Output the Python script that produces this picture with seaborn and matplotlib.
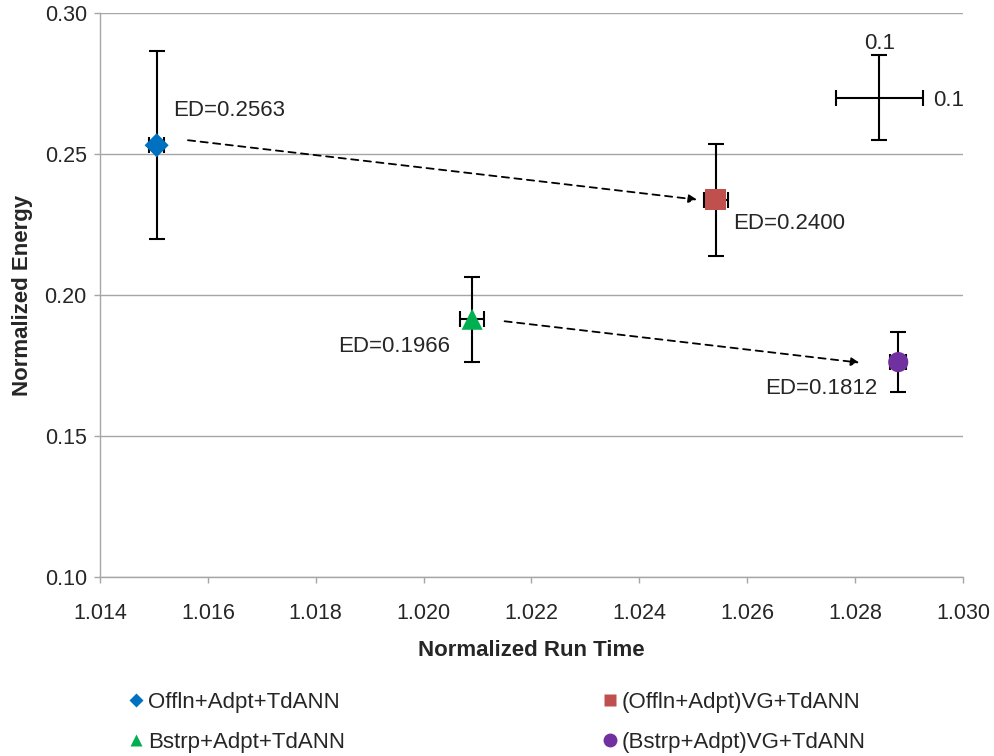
import matplotlib
matplotlib.use("Agg")
import matplotlib.pyplot as plt
import seaborn as sns
import pandas as pd
from matplotlib.lines import Line2D

# Data
methods = ["Offln+Adpt+TdANN", "(Offln+Adpt)VG+TdANN",
           "Bstrp+Adpt+TdANN", "(Bstrp+Adpt)VG+TdANN"]
run_time = [1.01505, 1.02542, 1.02090, 1.02880]
energy = [0.2531, 0.2337, 0.1914, 0.1762]
run_time_err = [0.00014, 0.00023, 0.00022, 0.00015]
energy_err = [0.0334, 0.0197, 0.0150, 0.0107]
ed_labels = ["ED=0.2563", "ED=0.2400", "ED=0.1966", "ED=0.1812"]

# Scale reference cross
scale_center = (1.02845, 0.2699)
scale_xerr = 0.0008
scale_yerr = 0.0151
scale_labels = ["0.1", "0.1"]

colors = {"Offln+Adpt+TdANN": "#0070C0",
          "(Offln+Adpt)VG+TdANN": "#C0504D",
          "Bstrp+Adpt+TdANN": "#00B050",
          "(Bstrp+Adpt)VG+TdANN": "#7030A0"}
markers = {"Offln+Adpt+TdANN": "D",
           "(Offln+Adpt)VG+TdANN": "s",
           "Bstrp+Adpt+TdANN": "^",
           "(Bstrp+Adpt)VG+TdANN": "o"}
sizes = {"Offln+Adpt+TdANN": 150,
         "(Offln+Adpt)VG+TdANN": 230,
         "Bstrp+Adpt+TdANN": 230,
         "(Bstrp+Adpt)VG+TdANN": 210}

df = pd.DataFrame({"method": methods, "run_time": run_time, "energy": energy,
                   "xerr": run_time_err, "yerr": energy_err})

sns.set_style("white")
plt.rcParams["font.family"] = ["Liberation Sans", "DejaVu Sans"]

fig = plt.figure(figsize=(9.95, 7.56), dpi=100)
ax = fig.add_axes([0.1005, 0.2368, 0.8673, 0.7460])

# error bars
ax.errorbar(df["run_time"], df["energy"], xerr=df["xerr"], yerr=df["yerr"],
            fmt="none", ecolor="black", elinewidth=1.5, capsize=5.5,
            capthick=1.5, zorder=2)

for _, r in df.iterrows():
    sns.scatterplot(x=[r["run_time"]], y=[r["energy"]], ax=ax,
                    marker=markers[r["method"]], s=sizes[r["method"]],
                    color=colors[r["method"]], edgecolor="none",
                    zorder=3, legend=False)

# dashed arrows between related methods
arrow_kw = dict(arrowstyle="-|>", linestyle=(0, (4, 3)), color="black",
                lw=1.3, mutation_scale=12)
ax.annotate("", xy=(1.02512, 0.2337), xytext=(1.01558, 0.2550),
            arrowprops=arrow_kw)
ax.annotate("", xy=(1.02813, 0.1759), xytext=(1.02145, 0.1908),
            arrowprops=arrow_kw)

# ED annotations
fs = 16
ax.text(1.01535, 0.2653, ed_labels[0], fontsize=fs, ha="left", va="center")
ax.text(1.02574, 0.2252, ed_labels[1], fontsize=fs, ha="left", va="center")
ax.text(1.02049, 0.1816, ed_labels[2], fontsize=fs, ha="right", va="center")
ax.text(1.02842, 0.1670, ed_labels[3], fontsize=fs, ha="right", va="center")

# scale cross
ax.errorbar([scale_center[0]], [scale_center[1]], xerr=scale_xerr,
            yerr=scale_yerr, fmt="none", ecolor="black", elinewidth=1.5,
            capsize=5.5, capthick=1.5)
ax.text(scale_center[0], scale_center[1] + scale_yerr + 0.0003,
        scale_labels[0], fontsize=fs, ha="center", va="bottom")
ax.text(scale_center[0] + scale_xerr + 0.0002, scale_center[1] - 0.0008,
        scale_labels[1], fontsize=fs, ha="left", va="center")

# axes
ax.set_xlim(1.014, 1.030)
ax.set_ylim(0.10, 0.30)
ax.set_xticks([1.014 + 0.002 * i for i in range(9)])
ax.set_yticks([0.10, 0.15, 0.20, 0.25, 0.30])
ax.xaxis.set_major_formatter(matplotlib.ticker.FormatStrFormatter("%.3f"))
ax.yaxis.set_major_formatter(matplotlib.ticker.FormatStrFormatter("%.2f"))
ax.tick_params(axis="both", labelsize=15.5, direction="out", length=4.5,
               color="#A6A6A6", width=1, bottom=True, left=True)
ax.tick_params(axis="x", pad=14)
ax.tick_params(axis="y", pad=5)
ax.yaxis.grid(True, color="#A6A6A6", linewidth=1)
ax.xaxis.grid(False)
ax.set_axisbelow(True)
for side in ["top", "right"]:
    ax.spines[side].set_visible(False)
for side in ["left", "bottom"]:
    ax.spines[side].set_color("#A6A6A6")
    ax.spines[side].set_linewidth(1)
ax.set_xlabel("Normalized Run Time", fontsize=fs, fontweight="bold", labelpad=11.5)
ax.set_ylabel("Normalized Energy", fontsize=fs, fontweight="bold", labelpad=8)

# legend
order = [methods[0], methods[2], methods[1], methods[3]]
leg_sizes = {"Offln+Adpt+TdANN": 7.5, "(Offln+Adpt)VG+TdANN": 9,
             "Bstrp+Adpt+TdANN": 9, "(Bstrp+Adpt)VG+TdANN": 10}
handles = [Line2D([], [], linestyle="none", marker=markers[m],
                  markersize=leg_sizes[m], color=colors[m],
                  markeredgecolor="none") for m in order]
fig.legend(handles, order, ncol=2, loc="lower left",
           bbox_to_anchor=(0.112, -0.022), frameon=False, fontsize=16,
           handlelength=0.4, handletextpad=0.35, columnspacing=11.7,
           labelspacing=0.83)

fig.savefig("out.png", dpi=100)
